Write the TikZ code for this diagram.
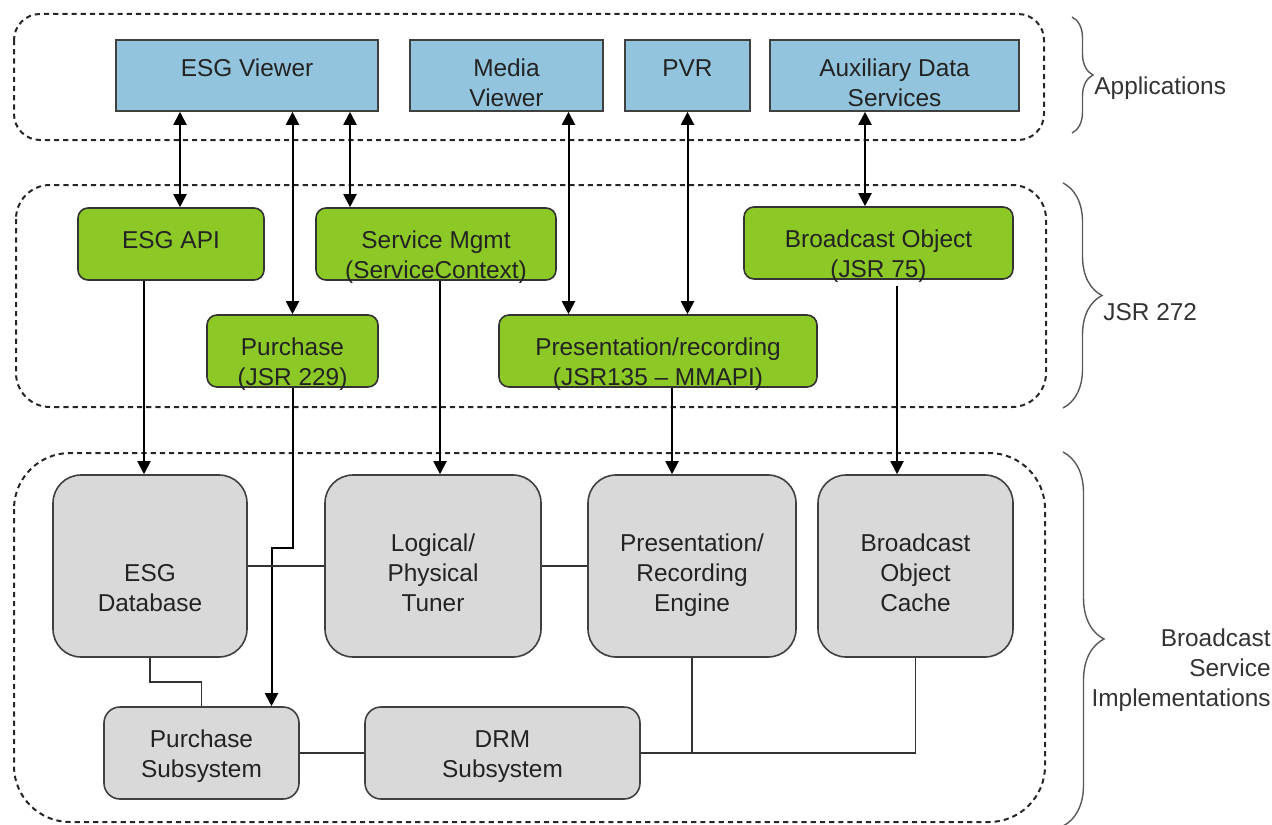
\documentclass[tikz,border=0pt]{standalone}
\usepackage{fontspec}
\setmainfont{Liberation Sans}
\usetikzlibrary{arrows.meta,decorations.pathreplacing}

\definecolor{appblue}{RGB}{146,196,222}
\definecolor{apigreen}{RGB}{140,200,38}
\definecolor{implgray}{RGB}{217,217,217}
\definecolor{inkgray}{RGB}{35,35,35}

\tikzset{
	frame/.style={draw=black!85, line width=1pt, dash pattern=on 2.6pt off 2pt},
	bracket/.style={draw=black!65, line width=0.7pt, decorate},
	appbox/.style={draw=black!75, line width=0.8pt, fill=appblue, inner sep=0pt, align=center, text height=33pt, text depth=2.5pt},
	apibox/.style={draw=black!80, line width=0.8pt, fill=apigreen, rounded corners=5pt, inner sep=0pt, align=center, text height=35pt, text depth=1pt},
	implbox/.style={draw=black!75, line width=0.8pt, fill=implgray, rounded corners=14pt, inner sep=0pt, align=center, text height=68pt, text depth=23pt},
	subbox/.style={draw=black!75, line width=0.8pt, fill=implgray, rounded corners=8pt, inner sep=0pt, align=center, text height=35pt, text depth=11pt},
	oneline/.style={text height=18pt, text depth=17.5pt},
	biarrow/.style={{Triangle[length=6.5pt,width=6.5pt]}-{Triangle[length=6.5pt,width=6.5pt]}, line width=1pt},
	feedarrow/.style={-{Triangle[length=6.5pt,width=6.5pt]}, line width=1pt},
	wire/.style={line width=0.8pt, draw=black!80},
	grplabel/.style={inner sep=0pt, text=black!80}
}

\begin{document}
\begin{tikzpicture}[x=0.5pt, y=-0.5pt, font=\fontsize{12.2}{15}\selectfont, text=inkgray]
	\useasboundingbox (0,0) rectangle (1272,824);

	\draw [frame, rounded corners=13pt] (14,14) rectangle (1044,140);
	\draw [frame, rounded corners=17pt] (16,185) rectangle (1046,407);
	\draw [frame, rounded corners=28pt] (14,453) rectangle (1045,822);

	\node [appbox, oneline, minimum width=131pt] (esgview) at (247,75.5) {ESG Viewer};
	\node [appbox, minimum width=96.5pt] (mediaview) at (506.5,75.5) {Media\\Viewer};
	\node [appbox, oneline, minimum width=62.5pt] (pvr) at (687.5,75.5) {PVR};
	\node [appbox, minimum width=124.5pt] (auxdata) at (894.5,75.5) {Auxiliary Data\\Services};

	\node [apibox, text height=20pt, text depth=16pt, minimum width=93pt] (esgapi) at (171,244) {ESG API};
	\node [apibox, minimum width=120pt] (svcmgmt) at (436,244) {Service Mgmt\\(ServiceContext)};
	\node [apibox, minimum width=134.5pt] (bcobj) at (878.5,243) {Broadcast Object\\(JSR 75)};
	\node [apibox, minimum width=85.5pt] (purchase) at (292.5,351) {Purchase\\(JSR 229)};
	\node [apibox, minimum width=159pt] (prsrec) at (658,351) {Presentation/recording\\(JSR135 -- MMAPI)};

	\node [implbox, minimum width=97pt] (esgdb) at (150,566) {ESG\\Database};
	\node [implbox, minimum width=108pt] (tuner) at (433,566) {Logical/\\Physical\\Tuner};
	\node [implbox, minimum width=104pt] (prseng) at (692,566) {Presentation/\\Recording\\Engine};
	\node [implbox, minimum width=97.5pt] (bocache) at (915.5,566) {Broadcast\\Object\\Cache};
	\node [subbox, minimum width=97.5pt] (purchsub) at (201.5,753) {Purchase\\Subsystem};
	\node [subbox, minimum width=137.5pt] (drm) at (502.5,753) {DRM\\Subsystem};

	\draw [biarrow] ([xshift=4.5pt]esgapi.north |- esgview.south) -- ([xshift=4.5pt]esgapi.north);
	\draw [biarrow] (purchase.north |- esgview.south) -- (purchase.north);
	\draw [biarrow] ([xshift=-43pt]svcmgmt.north |- esgview.south) -- ([xshift=-43pt]svcmgmt.north);
	\draw [biarrow] ([xshift=31pt]mediaview.south) -- ([xshift=31pt]mediaview.south |- prsrec.north);
	\draw [biarrow] (pvr.south) -- (pvr.south |- prsrec.north);
	\draw [biarrow] ([xshift=-14.75pt]auxdata.south) -- ([xshift=-14.75pt]auxdata.south |- bcobj.north);

	\draw [feedarrow] ([xshift=-3pt]esgdb.north |- esgapi.south) -- ([xshift=-3pt]esgdb.north);
	\draw [feedarrow] ([xshift=2pt]svcmgmt.south) -- ([xshift=2pt]svcmgmt.south |- tuner.north);
	\draw [feedarrow] ([xshift=7pt]prsrec.south) -- ([xshift=7pt]prsrec.south |- prseng.north);
	\draw [feedarrow, shorten <=3pt] ([xshift=9.25pt]bcobj.south) -- ([xshift=9.25pt]bcobj.south |- bocache.north);
	\draw [feedarrow] (purchase.south) -- ++(0,160) -- ++(-21,0) -- ([xshift=35pt]purchsub.north);

	\draw [wire] (esgdb) -- (tuner);
	\draw [wire] (tuner) -- (prseng);
	\draw [wire] (esgdb.south) -- ++(0,24) -| (purchsub.north);
	\draw [wire] (purchsub) -- (drm);
	\draw [wire] (drm.east) -| (prseng.south);
	\draw [wire] (drm.east) -| (bocache.south);

	\draw [bracket, decoration={brace, amplitude=10.5pt}] (1072,17) -- (1072,133);
	\draw [bracket, decoration={brace, amplitude=19.5pt}] (1063,183) -- (1063,408);
	\draw [bracket, decoration={brace, amplitude=20.5pt}] (1063,452) -- (1063,826);
	\node [grplabel, anchor=west] (applbl) at (1094,88) {Applications};
	\node [grplabel, anchor=west] (jsrlbl) at (1103,312) {JSR 272};
	\node [grplabel, anchor=east, align=right] (bsilbl) at (1271,670) {Broadcast\\Service\\Implementations};
\end{tikzpicture}
\end{document}
